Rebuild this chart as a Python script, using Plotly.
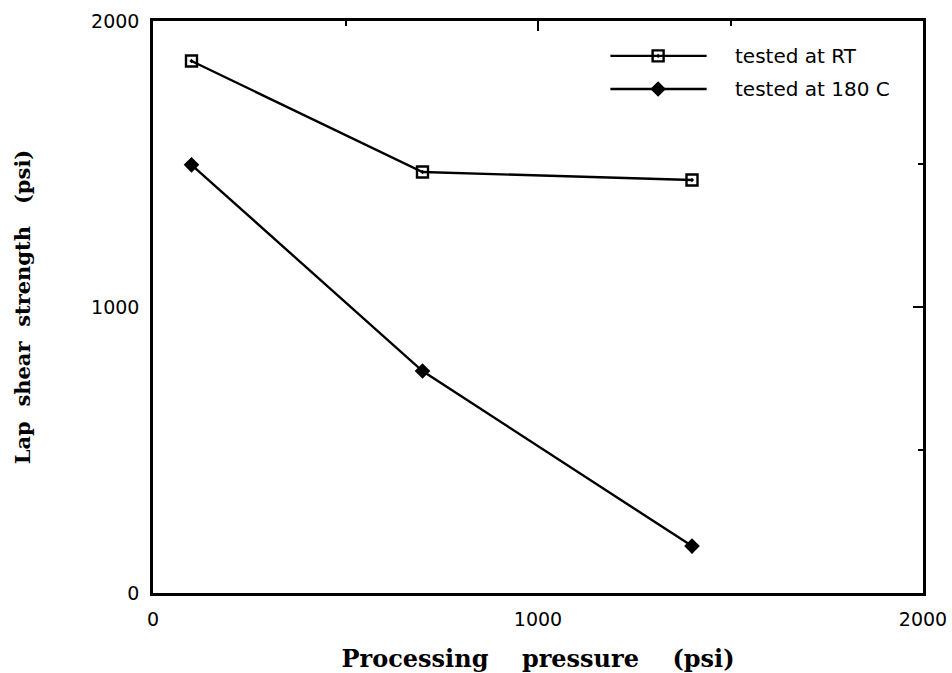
import plotly.graph_objects as go

pressure = [100, 700, 1400]
rt_strength = [1860, 1472, 1444]
hot_strength = [1497, 776, 164]
series_names = ["tested at RT", "tested at 180 C"]
tick_vals = [0, 1000, 2000]

fig = go.Figure()
line_style = dict(color="black", width=2.4)
sym_rt = dict(symbol="square-open-dot", size=11, color="black", line=dict(width=2.4, color="black"))
sym_hot = dict(symbol="diamond", size=12, color="black")
fig.add_trace(go.Scatter(x=pressure, y=rt_strength, mode="lines+markers", name=series_names[0],
                         line=line_style, marker=sym_rt, showlegend=False))
fig.add_trace(go.Scatter(x=pressure, y=hot_strength, mode="lines+markers", name=series_names[1],
                         line=line_style, marker=sym_hot, showlegend=False))

# custom legend on hidden overlay axes (fractions of plot area)
leg_x = [0.594, 0.656, 0.719]
leg_rows = [0.939, 0.881]
for yrow, sym, nm in zip(leg_rows, [sym_rt, sym_hot], series_names):
    fig.add_trace(go.Scatter(x=leg_x, y=[yrow] * 3, mode="lines", line=line_style,
                             xaxis="x2", yaxis="y2", showlegend=False, hoverinfo="skip"))
    fig.add_trace(go.Scatter(x=[leg_x[1]], y=[yrow], mode="markers", marker=sym,
                             xaxis="x2", yaxis="y2", showlegend=False, hoverinfo="skip"))
    fig.add_annotation(x=0.753, y=yrow, xref="x2", yref="y2", text=nm, showarrow=False,
                       xanchor="left", yanchor="middle",
                       font=dict(family="DejaVu Sans", size=20, color="black"))

# empty traces to carry the tick-only top/right axes
fig.add_trace(go.Scatter(x=[None], y=[None], xaxis="x3", yaxis="y", showlegend=False, hoverinfo="skip"))
fig.add_trace(go.Scatter(x=[None], y=[None], xaxis="x", yaxis="y3", showlegend=False, hoverinfo="skip"))

tick_font = dict(family="DejaVu Sans", size=19, color="black")
main_axis = dict(showgrid=False, zeroline=False, showline=True, linecolor="black", linewidth=2.5,
                 mirror=True, ticks="", tickfont=tick_font, range=[0, 2000], tickvals=tick_vals,
                 automargin=False)
tick_axis = dict(showgrid=False, zeroline=False, showline=False, showticklabels=False,
                 ticks="inside", ticklen=10, tickwidth=2.2, tickcolor="black", tickvals=tick_vals,
                 range=[0, 2000], automargin=False, fixedrange=True,
                 minor=dict(ticks="inside", ticklen=5, tickwidth=2.2, tickcolor="black", dtick=500))

fig.update_layout(
    width=952, height=673,
    margin=dict(l=153, r=29, t=21, b=80, autoexpand=False),
    plot_bgcolor="white", paper_bgcolor="white",
    xaxis=dict(ticklabelstandoff=7,
               title=dict(text="Processing\u00a0\u00a0\u00a0\u00a0pressure\u00a0\u00a0\u00a0\u00a0(psi)", standoff=22,
                          font=dict(family="DejaVu Serif", size=24, color="black", weight="bold")),
               **main_axis),
    yaxis=dict(ticklabelstandoff=7,
               title=dict(text="Lap\u00a0\u00a0shear\u00a0\u00a0strength\u00a0\u00a0\u00a0(psi)", standoff=55,
                          font=dict(family="DejaVu Serif", size=21, color="black", weight="bold")),
               **main_axis),
    xaxis2=dict(range=[0, 1], overlaying="x", visible=False, fixedrange=True),
    yaxis2=dict(range=[0, 1], overlaying="y", visible=False, fixedrange=True),
    xaxis3=dict(overlaying="x", side="top", anchor="y", **tick_axis),
    yaxis3=dict(overlaying="y", side="right", anchor="x", **tick_axis),
)

fig.write_html("out.html", config={"displayModeBar": False},
               post_script="document.body.style.margin='0';")
